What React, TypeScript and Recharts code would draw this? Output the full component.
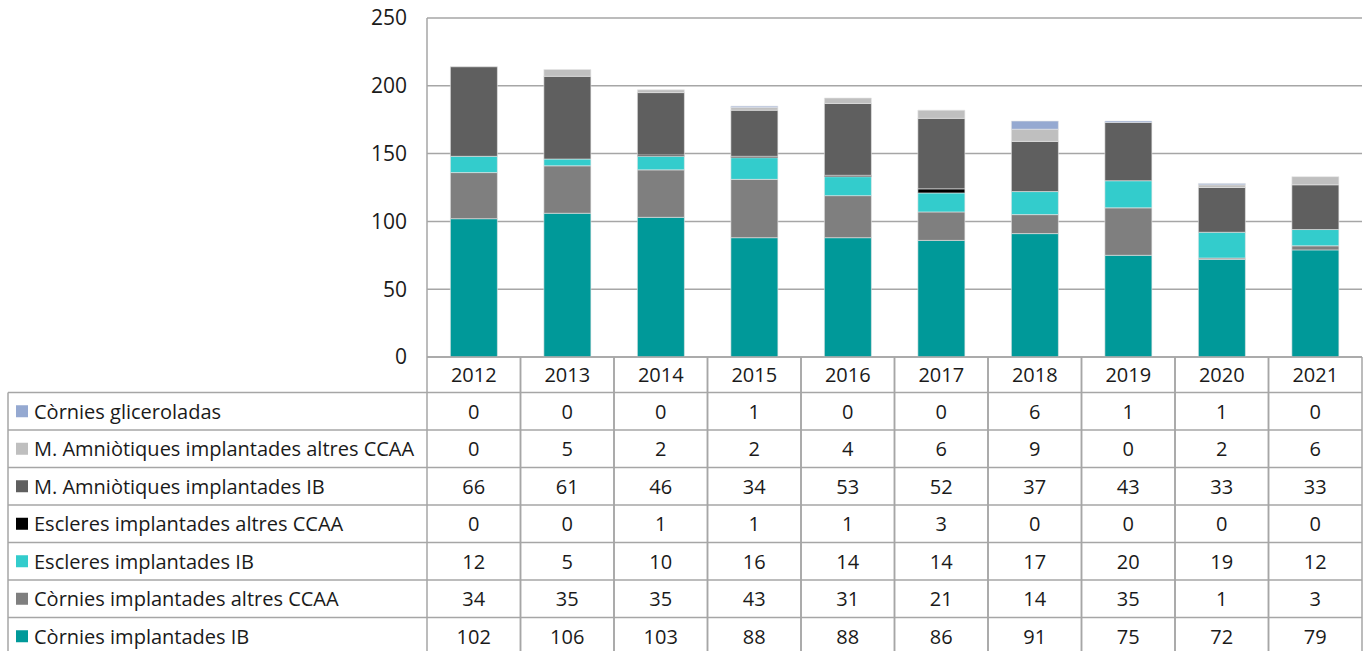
import { BarChart, Bar, XAxis, YAxis, CartesianGrid } from 'recharts';

const years = ['2012', '2013', '2014', '2015', '2016', '2017', '2018', '2019', '2020', '2021'];

const corniesGlicerolades = [0, 0, 0, 1, 0, 0, 6, 1, 1, 0];
const mAmnAltres = [0, 5, 2, 2, 4, 6, 9, 0, 2, 6];
const mAmnIB = [66, 61, 46, 34, 53, 52, 37, 43, 33, 33];
const escleresAltres = [0, 0, 1, 1, 1, 3, 0, 0, 0, 0];
const escleresIB = [12, 5, 10, 16, 14, 14, 17, 20, 19, 12];
const corniesAltres = [34, 35, 35, 43, 31, 21, 14, 35, 1, 3];
const corniesIB = [102, 106, 103, 88, 88, 86, 91, 75, 72, 79];

const yTicks = [0, 50, 100, 150, 200, 250];

// bottom to top stacking order
const series = [
  { key: 'cib', name: 'Còrnies implantades IB', values: corniesIB, color: '#009999' },
  { key: 'calt', name: 'Còrnies implantades altres CCAA', values: corniesAltres, color: '#7f7f7f' },
  { key: 'eib', name: 'Escleres implantades IB', values: escleresIB, color: '#33cccc' },
  { key: 'ealt', name: 'Escleres implantades altres CCAA', values: escleresAltres, color: '#000000' },
  { key: 'mib', name: 'M. Amniòtiques implantades IB', values: mAmnIB, color: '#5f5f5f' },
  { key: 'malt', name: 'M. Amniòtiques implantades altres CCAA', values: mAmnAltres, color: '#bfbfbf' },
  { key: 'glic', name: 'Còrnies gliceroladas', values: corniesGlicerolades, color: '#95a9d1' },
];

const tableRows = [...series].reverse();

const data = years.map((year, i) => {
  const row: Record<string, string | number> = { year };
  series.forEach((s) => { row[s.key] = s.values[i]; });
  return row;
});

const W = 1366;
const H = 651;
const PLOT_LEFT = 427;
const PLOT_RIGHT = 1362;
const COL_W = (PLOT_RIGHT - PLOT_LEFT) / years.length;
const HEADER_H = 35.5;
const ROW_H = 37.5;
const TABLE_LEFT = 8;
const LINE = '#a6a6a6';
const FONT = '"Open Sans", "Noto Sans", sans-serif';
const TEXT = '#1a1a1a';
const TABLE_FS = 20;

function TableTick(props: any) {
  const { x, y, payload } = props;
  const idx = years.indexOf(String(payload.value));
  const left = x - COL_W / 2;
  const right = x + COL_W / 2;
  const bodyTop = y + HEADER_H;
  const bottom = bodyTop + ROW_H * tableRows.length;

  return (
    <g>
      <line x1={left} y1={y} x2={left} y2={bottom} stroke={LINE} strokeWidth={1.5} />
      <line x1={right} y1={y} x2={right} y2={bottom} stroke={LINE} strokeWidth={1.5} />
      <text x={x} y={y + HEADER_H / 2} textAnchor="middle" dominantBaseline="central"
        fontFamily={FONT} fontSize={TABLE_FS} fill={TEXT}>
        {payload.value}
      </text>
      {tableRows.map((s, r) => (
        <g key={s.key}>
          <line x1={left} y1={bodyTop + r * ROW_H} x2={right} y2={bodyTop + r * ROW_H}
            stroke={LINE} strokeWidth={1.5} />
          <text x={x} y={bodyTop + r * ROW_H + ROW_H / 2} textAnchor="middle" dominantBaseline="central"
            fontFamily={FONT} fontSize={TABLE_FS} fill={TEXT}>
            {s.values[idx]}
          </text>
        </g>
      ))}
      {idx === 0 && (
        <g>
          <line x1={TABLE_LEFT} y1={bodyTop} x2={TABLE_LEFT} y2={bottom} stroke={LINE} strokeWidth={1.5} />
          {tableRows.map((s, r) => {
            const top = bodyTop + r * ROW_H;
            return (
              <g key={s.key}>
                <line x1={TABLE_LEFT} y1={top} x2={left} y2={top} stroke={LINE} strokeWidth={1.5} />
                <rect x={TABLE_LEFT + 8} y={top + ROW_H / 2 - 6} width={12} height={12} fill={s.color} />
                <text x={TABLE_LEFT + 26} y={top + ROW_H / 2} dominantBaseline="central"
                  fontFamily={FONT} fontSize={TABLE_FS} fill={TEXT}>
                  {s.name}
                </text>
              </g>
            );
          })}
        </g>
      )}
    </g>
  );
}

export default function App() {
  return (
    <div style={{ position: 'absolute', left: 0, top: 0, width: W, height: H, background: '#fff' }}>
      <BarChart
        width={W}
        height={H}
        data={data}
        margin={{ top: 18, right: W - PLOT_RIGHT, left: PLOT_LEFT - 60, bottom: 0 }}
        barCategoryGap="25%"
      >
        <CartesianGrid vertical={false} stroke={LINE} strokeWidth={1.5} />
        <XAxis
          dataKey="year"
          interval={0}
          height={H - 357}
          tickLine={false}
          tickSize={0}
          tickMargin={0}
          axisLine={{ stroke: LINE, strokeWidth: 1.5 }}
          tick={<TableTick />}
        />
        <YAxis
          width={60}
          domain={[0, 250]}
          ticks={yTicks}
          interval={0}
          tickLine={false}
          axisLine={{ stroke: LINE, strokeWidth: 1.5 }}
          tickMargin={14}
          tick={{ fill: TEXT, fontSize: 21, fontFamily: FONT }}
        />
        {series.map((s) => (
          <Bar
            key={s.key}
            dataKey={s.key}
            name={s.name}
            stackId="a"
            fill={s.color}
            stroke="#e6e6e6"
            strokeWidth={0.6}
            isAnimationActive={false}
          />
        ))}
      </BarChart>
    </div>
  );
}
